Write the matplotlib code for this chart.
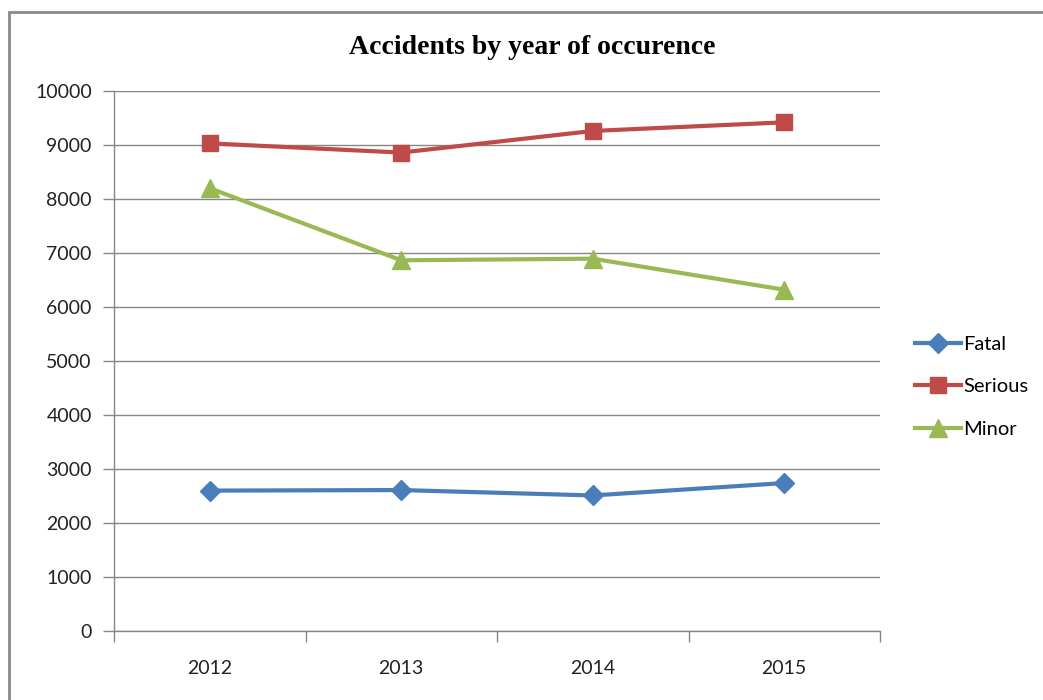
import matplotlib
matplotlib.use('Agg')
import matplotlib.pyplot as plt
from matplotlib.patches import Rectangle

# Data
years = ['2012', '2013', '2014', '2015']
fatal = [2600, 2610, 2510, 2740]
serious = [9030, 8860, 9260, 9420]
minor = [8200, 6865, 6895, 6320]

GRID = '#868686'

fig = plt.figure(figsize=(10.43, 7.0), dpi=100)
ax = fig.add_axes([114 / 1043, 69 / 700, 766 / 1043, 540 / 700])

# outer chart border (runs off the right and bottom edges)
fig.patches.append(Rectangle((9 / 1043, -0.05), 1.1, (700 - 12) / 700 + 0.05,
                             transform=fig.transFigure, fill=False,
                             edgecolor='#8a8a8a', linewidth=2.0))

x = list(range(len(years)))
ax.plot(x, fatal, color='#4A7EBB', lw=3, marker='D', ms=10.5, label='Fatal')
ax.plot(x, serious, color='#BE4B48', lw=3, marker='s', ms=11.5, label='Serious')
ax.plot(x, minor, color='#98B954', lw=3, marker='^', ms=12.5, label='Minor')

ax.set_xlim(-0.5, len(years) - 0.5)
ax.set_ylim(0, 10000)
ax.set_yticks(range(0, 10001, 1000))
ax.set_xticks(x)
ax.set_xticklabels(years)
ax.set_xticks([i - 0.5 for i in range(len(years) + 1)], minor=True)

ax.grid(axis='y', color=GRID, lw=1)
ax.set_axisbelow(True)
for s in ['top', 'right']:
    ax.spines[s].set_visible(False)
for s in ['left', 'bottom']:
    ax.spines[s].set_color(GRID)
    ax.spines[s].set_linewidth(1)

ax.tick_params(axis='y', length=8, width=1, color=GRID, labelsize=14,
               pad=8, labelcolor='#222222')
ax.tick_params(axis='x', which='major', length=0, labelsize=14, pad=21,
               labelcolor='#222222')
ax.tick_params(axis='x', which='minor', length=8, width=1, color=GRID)
for lab in ax.get_xticklabels() + ax.get_yticklabels():
    lab.set_fontfamily('Lato')

fig.text(532 / 1043, 1 - 48 / 700, 'Accidents by year of occurence',
         ha='center', va='center', fontsize=20, fontweight='bold',
         fontfamily='Liberation Serif')

ax.legend(loc='center left', bbox_to_anchor=(1.022, 0.452), frameon=False,
          prop={'family': 'Lato', 'size': 14.5}, handlelength=2.3,
          handletextpad=0.1, labelspacing=1.25)

fig.savefig('out.png', dpi=100)
